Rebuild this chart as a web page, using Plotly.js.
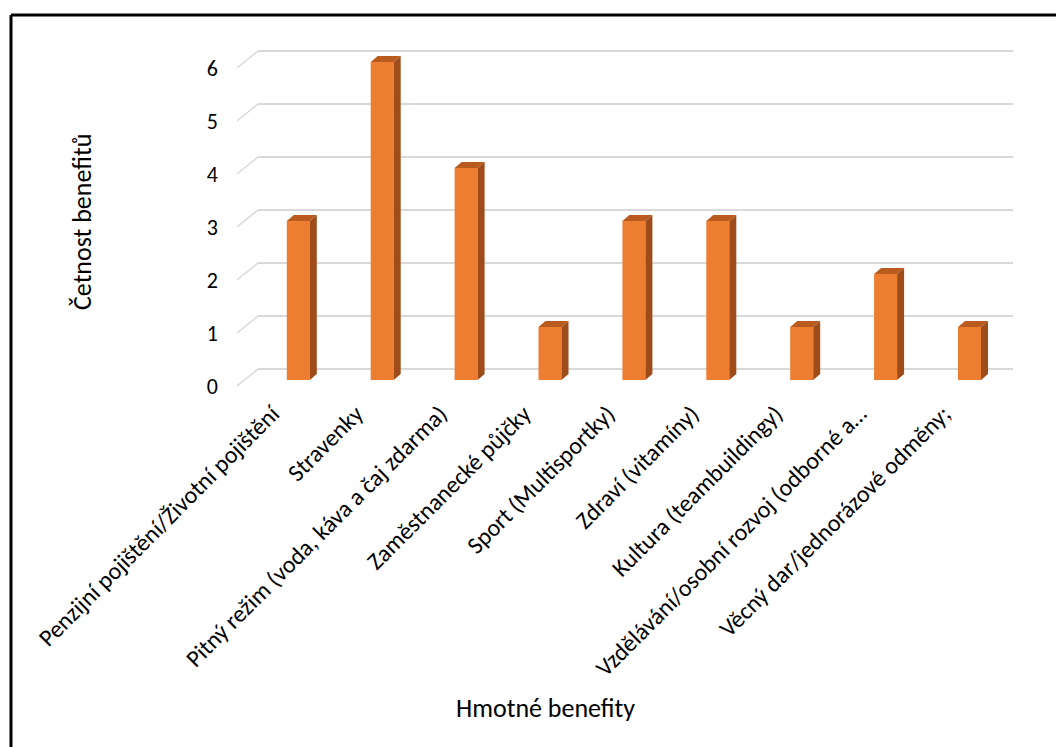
<!DOCTYPE html>
<html><head><meta charset="utf-8">
<script src="https://cdn.plot.ly/plotly-3.0.1.min.js"></script>
<style>html,body{margin:0;padding:0;background:#fff;}#chart{width:1056px;height:747px;}</style>
</head><body><div id="chart"></div>
<script>
// ---- data ----
const categories = [
  'Penzijní pojištění/Životní pojištění',
  'Stravenky',
  'Pitný režim (voda, káva a čaj zdarma)',
  'Zaměstnanecké půjčky',
  'Sport (Multisportky)',
  'Zdraví (vitamíny)',
  'Kultura (teambuildingy)',
  'Vzdělávání/osobní rozvoj (odborné a…',
  'Věcný dar/jednorázové odměny;'
];
const values = [3, 6, 4, 1, 3, 3, 1, 2, 1];
const yTicks = [0, 1, 2, 3, 4, 5, 6];
const xTitle = 'Hmotné benefity';
const yTitle = 'Četnost benefitů';

// ---- layout geometry (pixels) ----
const W = 1056, H = 747;
const px = x => x / W;
const py = y => (H - y) / H;
const step = 83.9, c0 = 298.3;      // category spacing / first centre
const unit = 53;                     // px per value unit
const barZero = 380, backZero = 369, frontZero = 386;
const depthX = 7, depthY = 6;        // 3D side depth of bars
const idx = categories.map((_, i) => i);
const FONT = 'Carlito, Lato, "Open Sans", sans-serif';

const bw = 23 / step, dx = depthX / step, dy = depthY / unit;
const shapes = [];
values.forEach((v, i) => {
  const l = i - bw / 2, r = i + bw / 2;
  shapes.push({type: 'path', xref: 'x2', yref: 'y2', line: {width: 0}, fillcolor: '#9E4C1A',
    path: `M${r},0 L${r + dx},${dy} L${r + dx},${v + dy} L${r},${v} Z`});
  shapes.push({type: 'path', xref: 'x2', yref: 'y2', line: {width: 0}, fillcolor: '#B95B1F',
    path: `M${l},${v} L${l + dx},${v + dy} L${r + dx},${v + dy} L${r},${v} Z`});
});
// chart frame (left and top edges)
shapes.push({type: 'line', xref: 'paper', yref: 'paper', x0: px(11), x1: px(11), y0: -0.02, y1: py(15), line: {color: '#000', width: 3}});
shapes.push({type: 'line', xref: 'paper', yref: 'paper', x0: px(11), x1: 1.02, y0: py(15), y1: py(15), line: {color: '#000', width: 3}});

// side-wall connectors from the front axis to the back wall gridlines
const cx = [], cy = [];
yTicks.forEach(t => { cx.push(0, 1, null); cy.push(t, t + (frontZero - backZero) / unit, null); });

const traces = [
  {type: 'scatter', x: [0, 1], y: [0, 0], mode: 'markers', marker: {opacity: 0}, xaxis: 'x', yaxis: 'y', hoverinfo: 'skip'},
  {type: 'bar', x: idx, y: values, width: bw, marker: {color: '#ED7D31', line: {width: 0}}, xaxis: 'x2', yaxis: 'y2', hoverinfo: 'skip'},
  {type: 'scatter', x: cx, y: cy, mode: 'lines', line: {color: '#D9D9D9', width: 1.5}, xaxis: 'x3', yaxis: 'y3', hoverinfo: 'skip'}
];

const hidden = {showgrid: false, zeroline: false, showline: false, showticklabels: false, ticks: ''};
const layout = {
  width: W, height: H,
  margin: {l: 0, r: 0, t: 0, b: 0},
  paper_bgcolor: '#fff', plot_bgcolor: 'rgba(0,0,0,0)',
  showlegend: false,
  font: {family: FONT, color: '#000'},
  xaxis: Object.assign({}, hidden, {domain: [px(258), px(1013)], range: [0, 1]}),
  yaxis: Object.assign({}, hidden, {domain: [py(backZero + 0.2 * unit), py(backZero - 6.2 * unit)], range: [-0.2, 6.2],
    showgrid: true, gridcolor: '#D9D9D9', gridwidth: 1.5, tickmode: 'array', tickvals: yTicks}),
  xaxis2: Object.assign({}, hidden, {domain: [px(c0 - 0.5 * step), px(c0 + 8.5 * step)], range: [-0.5, 8.5], anchor: 'y2',
    showticklabels: true, tickmode: 'array', tickvals: idx, ticktext: categories, tickangle: -45,
    tickfont: {size: 24, family: FONT, color: '#000'}, ticklabelstandoff: 14, ticklabelshift: -26}),
  yaxis2: Object.assign({}, hidden, {domain: [py(barZero), py(barZero - 6.5 * unit)], range: [0, 6.5], anchor: 'x2'}),
  xaxis3: Object.assign({}, hidden, {domain: [px(237), px(258)], range: [0, 1], anchor: 'y3'}),
  yaxis3: Object.assign({}, hidden, {domain: [py(frontZero + 0.3 * unit), py(frontZero - 6.5 * unit)], range: [-0.3, 6.5], anchor: 'x3',
    showticklabels: true, tickmode: 'array', tickvals: yTicks, tickfont: {size: 22, family: FONT, color: '#000'}, ticklabelstandoff: 18}),
  shapes: shapes,
  annotations: [
    {text: xTitle, xref: 'paper', yref: 'paper', x: px(545), y: py(708), xanchor: 'center', yanchor: 'middle',
      showarrow: false, font: {size: 26, family: FONT, color: '#000'}},
    {text: yTitle, xref: 'paper', yref: 'paper', x: px(82), y: py(222), xanchor: 'center', yanchor: 'middle',
      showarrow: false, textangle: -90, font: {size: 26, family: FONT, color: '#000'}}
  ]
};
Plotly.newPlot('chart', traces, layout, {staticPlot: true, displayModeBar: false});
</script>
</body></html>
